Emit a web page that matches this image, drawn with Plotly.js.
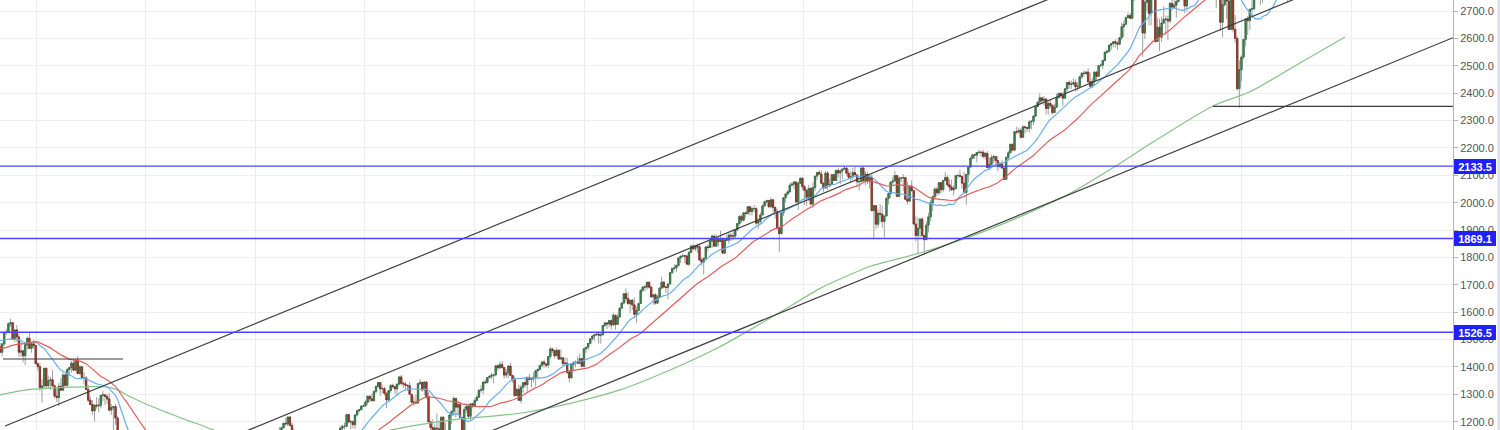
<!DOCTYPE html>
<html><head><meta charset="utf-8">
<script src="https://cdn.plot.ly/plotly-3.0.1.min.js"></script>
<style>html,body{margin:0;padding:0;background:#fff;overflow:hidden}#chart{width:1500px;height:430px}</style>
</head><body><div id="chart"></div>
<script>
// Weekly S&P 500 candles, one per week starting Monday 2007-01-01
const firstWeek = '2007-01-01';
const weekOpen = [
1418.3,1409.7,1430.7,1430.5,1422.2,1448.4,1438.1,1455.5,1451.2,1387.2,1402.8,1386.9,1436.1,1420.9,1443.8,1452.9,1484.4,1494.1,1505.6,1505.9,1522.8,1515.7,1536.3,1507.7,1532.9,1502.6,1503.4,1530.4,1552.5,1534.1,1458.9,1433.1,1453.6,1445.9,1479.4,1474.0,1453.6,1484.3,1525.8,1526.8,1557.6,1561.8,1500.6,1535.3,1509.7,1453.7,1458.7,1440.7,1481.1,1504.7,1467.9,1484.5,
1478.5,1411.6,1401.0,1325.2,1330.6,1395.4,1331.3,1349.99,1353.1,1330.6,1293.4,1288.1,1329.5,1315.2,1370.4,1332.8,1390.3,1397.8,1413.9,1388.3,1425.4,1375.9,1400.4,1360.7,1360.0,1317.9,1278.4,1262.9,1239.5,1260.7,1257.8,1260.3,1296.3,1298.2,1292.2,1282.8,1242.3,1251.7,1255.1,1213.3,1099.2,899.2,940.6,876.8,968.8,930.99,873.3,800.0,896.2,876.1,879.7,887.9,
872.8,931.8,890.4,850.1,831.95,825.9,868.6,826.8,770.05,735.1,683.4,756.6,768.5,815.9,842.5,856.6,869.6,866.2,877.5,929.2,882.9,887.0,919.1,940.1,946.2,921.2,918.9,896.4,879.1,940.4,979.3,987.5,1010.5,1004.1,1026.1,1028.9,1016.4,1042.7,1068.3,1044.4,1025.2,1071.5,1087.7,1079.6,1036.2,1069.3,1093.5,1091.4,1091.5,1106.0,1106.4,1102.5,1126.5,
1115.1,1144.98,1136.0,1091.8,1073.9,1066.2,1075.5,1109.2,1104.5,1138.7,1149.99,1159.9,1166.6,1178.1,1194.4,1192.1,1217.3,1186.7,1110.9,1135.7,1087.7,1089.4,1064.9,1091.6,1117.5,1076.8,1022.6,1077.96,1064.9,1102.7,1101.6,1121.6,1079.3,1071.7,1064.6,1104.5,1109.6,1125.6,1148.7,1146.2,1165.2,1176.2,1183.1,1183.3,1225.9,1199.2,1199.7,1189.4,1224.7,1240.4,1243.9,1256.8,
1257.6,1271.5,1293.2,1283.4,1276.3,1310.9,1329.2,1343.0,1320.0,1321.2,1304.3,1279.2,1313.8,1332.4,1328.2,1319.7,1337.4,1363.6,1340.2,1337.8,1333.3,1331.1,1300.2,1270.98,1271.5,1268.5,1339.7,1343.8,1316.1,1345.0,1292.3,1199.4,1178.8,1123.5,1176.8,1173.97,1154.2,1216.0,1136.4,1131.4,1155.5,1224.6,1238.3,1285.1,1253.2,1263.9,1215.7,1158.7,1244.3,1255.2,1219.7,1265.3,
1257.6,1277.8,1289.1,1315.4,1316.3,1344.9,1342.6,1361.2,1365.7,1370.0,1370.9,1404.2,1397.1,1408.5,1398.1,1370.3,1378.5,1403.4,1369.1,1353.4,1295.2,1317.8,1278.0,1325.7,1342.8,1335.0,1362.2,1354.7,1356.8,1362.7,1385.97,1390.99,1405.9,1418.2,1411.1,1406.6,1437.9,1465.8,1460.2,1440.7,1460.9,1428.6,1433.2,1411.9,1414.2,1379.9,1359.9,1409.2,1416.2,1418.1,1413.6,1430.2,
1402.4,1466.5,1472.1,1485.98,1502.96,1513.2,1517.9,1519.8,1515.6,1518.2,1551.2,1560.7,1556.9,1569.2,1553.3,1588.9,1555.3,1582.2,1614.4,1633.7,1667.5,1649.6,1630.7,1643.4,1626.7,1592.4,1606.3,1631.9,1680.2,1692.1,1691.7,1709.7,1691.4,1655.8,1663.5,1632.97,1655.2,1687.99,1709.9,1691.8,1690.5,1703.2,1744.5,1759.8,1761.6,1770.6,1798.2,1804.8,1805.8,1805.1,1775.3,1818.3,
1841.4,1831.4,1842.4,1838.7,1790.3,1782.6,1797.0,1838.6,1836.3,1859.5,1878.0,1841.1,1866.5,1857.6,1865.1,1815.7,1864.9,1863.4,1881.1,1878.5,1877.9,1900.5,1923.6,1949.4,1936.2,1962.9,1960.96,1985.4,1967.6,1978.2,1978.3,1925.2,1931.6,1955.1,1988.4,2003.4,2007.7,1985.5,2010.4,1982.9,1967.9,1906.1,1886.8,1964.6,2018.1,2031.9,2039.8,2063.5,2067.6,2075.4,2002.3,2070.7,
2088.8,2058.2,2044.8,2019.4,2051.8,1994.99,2055.5,2096.99,2110.3,2104.5,2071.3,2053.4,2108.1,2061.0,2066.96,2102.1,2081.2,2117.7,2108.3,2116.1,2122.7,2126.1,2107.4,2092.8,2094.1,2109.99,2101.5,2076.8,2076.6,2126.6,2079.7,2103.8,2077.6,2091.5,1970.9,1988.9,1921.2,1961.1,1958.0,1931.3,1951.4,2014.9,2033.1,2075.2,2079.4,2099.2,2023.0,2089.2,2090.1,2091.7,2012.4,2005.6,2060.99,
2043.9,1922.0,1880.3,1906.9,1940.2,1880.1,1864.8,1917.8,1948.1,1999.99,2022.2,2049.6,2035.9,2072.8,2047.6,2080.7,2091.6,2065.3,2057.1,2046.6,2052.3,2099.1,2099.1,2096.1,2071.2,2037.4,2102.95,2129.9,2161.7,2175.0,2173.6,2182.9,2184.1,2183.9,2169.0,2179.98,2128.0,2139.2,2164.7,2168.3,2153.7,2132.98,2141.2,2126.4,2085.2,2164.5,2181.9,2213.4,2191.95,2259.5,2258.1,2263.8,
2238.8,2276.98,2274.6,2271.3,2294.7,2297.4,2316.1,2351.2,2367.3,2383.1,2372.6,2378.3,2343.98,2362.7,2355.5,2328.95,2348.7,2384.2,2399.3,2390.9,2381.7,2415.8,2439.1,2431.8,2433.2,2438.3,2423.4,2425.2,2459.3,2472.5,2472.1,2476.8,2441.3,2425.6,2443.1,2476.6,2461.4,2500.2,2502.2,2519.4,2549.3,2553.2,2575.2,2581.1,2587.8,2582.3,2578.9,2602.4,2642.2,2651.5,2675.8,2683.3,
2673.6,2743.2,2786.2,2810.3,2872.9,2762.1,2619.6,2732.2,2747.3,2691.3,2786.6,2752.0,2588.3,2640.9,2604.5,2656.3,2670.1,2669.9,2663.4,2727.7,2712.97,2721.3,2734.6,2779.0,2779.7,2754.9,2718.4,2759.8,2801.3,2801.8,2818.8,2840.4,2833.3,2850.1,2874.7,2901.5,2871.7,2904.98,2929.7,2913.98,2885.6,2767.1,2767.8,2658.7,2723.1,2781.0,2736.3,2632.6,2760.2,2633.1,2599.95,2416.6,
2485.7,2531.9,2596.3,2670.7,2664.8,2706.5,2707.9,2775.6,2792.7,2803.7,2743.1,2822.5,2800.7,2834.4,2892.7,2907.4,2905.0,2939.9,2945.6,2881.4,2859.5,2826.1,2752.1,2873.3,2886.98,2950.5,2941.8,2990.4,3013.8,2976.6,3025.9,2932.1,2918.7,2888.7,2847.1,2926.5,2978.7,3007.4,2992.1,2961.8,2952.0,2970.3,2986.2,3022.6,3066.9,3093.1,3120.5,3110.3,3140.98,3145.9
];
const weekHigh = [
1429.4,1431.6,1435.3,1440.7,1449.3,1461.6,1461.1,1461.6,1459.7,1410.2,1410.2,1437.6,1437.6,1444.9,1453.1,1484.7,1498.0,1510.3,1513.8,1522.8,1529.3,1540.6,1540.0,1538.7,1540.5,1514.96,1534.3,1555.1,1555.9,1534.1,1488.3,1503.9,1455.0,1479.4,1481.5,1488.4,1488.7,1529.4,1538.7,1561.9,1576.1,1562.9,1536.4,1552.8,1520.9,1492.1,1463.2,1488.9,1510.6,1523.6,1486.1,1498.9,
1478.5,1419.4,1414.8,1355.2,1396.0,1396.0,1368.9,1364.8,1388.6,1335.9,1321.7,1341.5,1359.7,1380.9,1378.1,1395.9,1399.9,1421.6,1422.7,1426.8,1440.2,1406.3,1404.1,1380.4,1366.6,1333.1,1292.2,1278.5,1262.3,1290.7,1284.9,1297.9,1313.2,1300.7,1301.5,1304.0,1265.4,1255.1,1265.0,1220.0,1106.3,1006.9,985.4,984.4,1007.5,941.4,873.3,896.2,896.2,919.0,918.9,887.9,
934.7,943.8,890.4,850.1,877.9,870.8,874.4,826.8,780.1,735.1,758.3,788.0,832.98,845.6,858.4,875.6,869.6,888.7,930.2,929.6,924.6,920.0,947.8,956.2,946.2,935.8,932.3,899.0,943.96,979.8,996.7,1018.0,1018.0,1027.6,1039.5,1039.5,1048.2,1074.8,1080.2,1062.9,1076.0,1096.6,1101.4,1083.7,1071.3,1105.4,1113.7,1112.4,1119.1,1110.7,1117.7,1129.6,1130.4,
1145.4,1150.4,1150.5,1103.7,1104.7,1080.0,1112.4,1112.4,1139.0,1150.2,1166.2,1180.7,1181.4,1194.7,1213.9,1217.3,1219.8,1197.0,1173.6,1138.0,1104.7,1105.7,1092.6,1119.1,1131.2,1078.7,1078.2,1099.1,1103.7,1120.95,1129.2,1127.3,1094.2,1081.2,1105.1,1110.9,1131.5,1148.9,1157.2,1167.7,1184.4,1189.4,1196.1,1227.1,1227.1,1207.4,1205.0,1225.6,1240.4,1246.7,1259.4,1262.6,
1278.2,1293.2,1296.7,1301.3,1311.0,1330.8,1344.1,1343.0,1332.3,1327.7,1304.3,1315.0,1337.8,1339.5,1328.2,1337.5,1364.6,1370.6,1346.9,1346.8,1334.0,1345.2,1300.2,1292.5,1298.6,1341.0,1356.5,1343.8,1347.0,1345.2,1307.4,1199.4,1208.5,1190.7,1230.7,1204.4,1220.4,1220.4,1195.9,1160.0,1224.6,1238.5,1292.7,1285.1,1277.6,1264.3,1215.7,1255.1,1267.1,1266.7,1265.4,1269.4,
1284.6,1296.8,1315.5,1333.5,1345.3,1354.3,1363.0,1368.9,1378.0,1373.0,1405.9,1409.5,1419.2,1422.4,1398.1,1392.8,1406.6,1415.3,1369.1,1365.9,1324.1,1334.9,1334.8,1343.0,1363.5,1362.2,1374.8,1356.8,1380.4,1389.2,1394.2,1407.1,1418.7,1426.7,1413.5,1438.9,1474.5,1467.1,1460.2,1470.96,1464.0,1464.0,1433.8,1434.3,1433.4,1388.8,1409.2,1420.8,1423.7,1438.6,1448.0,1430.2,
1466.5,1472.3,1485.98,1503.3,1514.4,1518.3,1524.7,1530.9,1525.8,1552.5,1563.6,1563.6,1570.3,1573.7,1597.4,1588.9,1592.6,1618.5,1635.0,1667.5,1687.2,1674.2,1646.5,1648.7,1654.2,1620.1,1632.1,1680.2,1693.1,1698.8,1709.7,1709.7,1696.8,1664.8,1669.5,1664.9,1689.97,1729.9,1711.0,1696.6,1703.4,1745.3,1759.8,1775.2,1774.5,1798.2,1804.8,1813.6,1808.4,1811.0,1823.8,1844.9,
1849.4,1843.2,1850.8,1850.8,1798.8,1798.0,1838.6,1846.9,1867.9,1883.6,1883.6,1883.97,1875.9,1897.3,1872.5,1869.6,1884.9,1891.3,1889.1,1902.2,1901.3,1924.0,1955.6,1955.6,1963.9,1968.2,1985.6,1985.4,1983.9,1991.4,1984.9,1942.9,1964.0,1994.0,2005.0,2011.2,2007.7,2019.3,2011.8,1985.2,1977.4,1912.1,1965.3,2018.2,2034.3,2046.2,2071.5,2075.8,2079.5,2077.9,2077.9,2093.6,
2093.6,2064.4,2049.3,2064.6,2057.6,2072.4,2097.0,2110.6,2119.6,2117.5,2072.8,2114.9,2114.9,2088.5,2102.6,2107.6,2120.5,2125.9,2120.9,2123.9,2134.7,2129.2,2121.9,2115.4,2126.6,2130.1,2101.5,2085.7,2129.9,2132.8,2114.2,2112.7,2102.7,2102.7,1993.5,1988.9,1975.0,1995.0,1989.4,1951.4,2020.9,2033.5,2075.2,2094.3,2116.5,2099.2,2097.1,2093.8,2104.3,2093.8,2076.7,2062.5,2081.6,
2043.9,1950.3,1947.2,1940.2,1947.2,1881.6,1930.7,1962.96,2009.1,2024.6,2056.6,2056.6,2075.1,2075.1,2083.1,2111.05,2099.9,2084.9,2083.6,2064.2,2099.1,2106.3,2120.6,2096.1,2113.3,2102.95,2131.7,2169.1,2175.6,2177.1,2182.9,2193.8,2187.9,2193.4,2184.9,2187.9,2163.3,2175.3,2175.3,2169.6,2169.6,2148.4,2154.8,2133.0,2170.1,2189.9,2213.4,2214.1,2259.5,2277.5,2273.8,2273.8,
2282.1,2279.3,2276.1,2300.99,2299.4,2319.2,2351.3,2368.3,2400.98,2383.9,2390.0,2382.4,2370.3,2378.4,2359.0,2361.4,2398.2,2399.3,2403.9,2405.8,2418.7,2440.2,2446.2,2446.2,2453.8,2450.4,2439.5,2463.5,2477.6,2484.0,2480.4,2490.9,2474.9,2454.8,2480.4,2480.0,2500.2,2508.9,2519.4,2552.5,2557.7,2575.4,2582.98,2588.4,2597.0,2590.1,2605.5,2657.7,2665.2,2679.6,2694.97,2692.1,
2743.5,2787.9,2810.3,2872.9,2872.9,2763.4,2754.4,2747.8,2789.2,2786.6,2801.9,2752.0,2674.8,2672.1,2680.3,2717.5,2683.6,2682.9,2732.9,2742.1,2742.2,2742.4,2791.5,2789.1,2779.7,2758.8,2760.0,2801.3,2816.8,2848.0,2840.4,2863.4,2854.4,2876.2,2916.5,2906.3,2906.3,2940.9,2939.9,2939.9,2894.8,2816.9,2778.9,2756.5,2815.2,2781.0,2746.8,2760.9,2800.2,2685.4,2607.1,2520.3,
2538.1,2597.8,2675.5,2681.8,2708.0,2738.98,2775.7,2794.2,2813.5,2816.9,2830.7,2860.3,2836.0,2893.2,2910.5,2916.1,2940.0,2954.1,2945.6,2892.2,2876.2,2841.4,2884.9,2905.1,2964.2,2964.2,2995.8,3017.8,3017.8,3027.98,3029.0,2945.5,2943.3,2939.1,2940.4,2985.9,3021.0,3022.0,3016.4,2993.3,2993.3,3000.4,3027.4,3066.9,3097.8,3120.5,3127.6,3154.3,3154.0,3176.3
];
const weekLow = [
1403.97,1405.0,1424.2,1416.6,1418.9,1437.7,1433.2,1444.0,1374.1,1373.8,1363.98,1386.9,1412.0,1416.4,1433.9,1452.2,1474.4,1476.7,1491.4,1498.3,1500.3,1510.1,1487.4,1492.7,1500.6,1484.2,1503.4,1506.1,1529.2,1458.3,1433.0,1429.0,1370.6,1430.5,1432.0,1449.6,1439.3,1476.6,1516.5,1526.8,1546.7,1500.6,1490.0,1492.5,1436.7,1437.0,1416.4,1406.1,1463.6,1467.3,1451.9,1468.1,
1411.2,1386.2,1312.8,1270.05,1322.4,1316.8,1320.3,1316.8,1330.6,1285.3,1272.6,1256.98,1312.8,1312.5,1328.6,1324.4,1368.2,1379.1,1384.6,1386.6,1373.1,1371.4,1359.9,1335.6,1314.5,1272.0,1261.5,1225.4,1200.4,1248.0,1234.4,1248.8,1274.0,1261.5,1265.0,1236.8,1225.0,1133.5,1188.6,1099.2,839.8,882.0,845.3,845.3,899.7,818.7,741.0,799.0,815.7,851.4,857.9,857.1,
857.3,870.3,804.3,804.3,821.7,812.9,818.4,754.3,734.5,666.8,672.9,742.4,768.5,779.8,814.5,836.9,826.8,847.1,868.9,878.9,878.9,879.6,917.4,927.1,903.8,888.9,896.4,869.3,879.1,940.4,968.7,987.5,990.9,978.5,1016.2,991.0,1016.2,1042.7,1038.3,1020.2,1025.2,1065.4,1065.0,1029.4,1029.4,1069.3,1085.4,1083.7,1085.4,1085.9,1095.4,1102.5,1115.1,
1115.1,1131.4,1090.2,1071.6,1044.5,1056.5,1075.5,1086.0,1104.5,1136.2,1139.3,1150.4,1163.1,1175.1,1186.8,1183.7,1181.6,1065.8,1110.9,1055.9,1040.8,1060.9,1042.2,1076.4,1071.7,1010.9,1018.4,1062.9,1056.9,1099.9,1101.6,1076.9,1069.1,1039.7,1047.0,1091.2,1109.6,1122.8,1131.9,1131.9,1155.7,1159.7,1171.7,1183.3,1194.1,1173.0,1176.0,1173.6,1219.4,1232.8,1243.9,1254.2,
1257.6,1262.7,1271.3,1275.7,1276.3,1302.6,1323.8,1294.3,1302.6,1294.3,1249.1,1279.2,1304.1,1322.1,1302.1,1294.7,1331.5,1331.9,1321.4,1318.5,1311.8,1300.0,1268.0,1258.1,1262.9,1265.6,1333.2,1309.7,1295.9,1282.9,1199.0,1101.5,1119.3,1121.1,1172.9,1148.6,1136.2,1114.2,1131.1,1074.8,1155.5,1191.5,1220.9,1215.4,1226.6,1209.4,1158.7,1158.7,1231.5,1209.5,1202.4,1248.6,
1257.6,1274.6,1289.1,1306.1,1300.5,1337.5,1340.0,1357.7,1354.9,1340.0,1365.3,1386.9,1391.6,1392.9,1357.4,1359.4,1358.6,1367.9,1343.1,1291.98,1295.2,1277.8,1266.7,1306.6,1324.4,1309.3,1352.3,1325.4,1343.0,1329.2,1354.7,1390.99,1397.3,1398.0,1397.0,1396.6,1429.1,1451.6,1430.5,1440.7,1425.5,1428.6,1403.3,1407.6,1373.0,1343.4,1359.9,1385.4,1398.1,1411.9,1413.6,1398.1,
1398.1,1451.6,1461.0,1485.98,1496.3,1495.0,1513.6,1485.0,1485.0,1512.3,1547.4,1538.6,1545.1,1536.0,1548.6,1536.0,1553.3,1581.3,1614.4,1628.5,1635.5,1630.7,1598.2,1608.1,1577.7,1560.3,1604.6,1631.9,1673.1,1676.0,1681.9,1686.0,1654.2,1627.5,1627.5,1630.0,1655.2,1684.1,1687.1,1670.4,1646.5,1700.7,1740.5,1752.7,1746.2,1767.0,1779.1,1800.4,1779.5,1772.3,1767.99,1818.3,
1827.7,1823.7,1815.8,1790.3,1770.5,1737.9,1795.5,1823.0,1834.4,1834.2,1839.6,1839.6,1839.6,1857.6,1814.4,1815.7,1859.7,1850.6,1859.8,1862.4,1868.1,1900.5,1915.98,1925.9,1930.0,1944.7,1955.9,1952.9,1952.9,1965.8,1916.4,1904.8,1925.0,1955.1,1985.2,1995.8,1980.3,1978.6,1965.99,1941.7,1906.1,1820.7,1886.8,1951.4,2001.0,2026.2,2034.5,2060.4,2049.6,2002.3,1972.6,2069.7,
2046.0,1992.4,1988.1,2004.5,1989.2,1980.9,2041.9,2085.4,2103.0,2067.3,2039.7,2053.4,2045.8,2056.0,2066.96,2079.1,2079.3,2091.1,2067.9,2085.7,2121.5,2099.2,2085.7,2072.1,2083.8,2101.3,2056.2,2044.0,2076.6,2077.9,2063.5,2067.9,2052.1,1970.9,1867.0,1903.1,1909.0,1930.0,1908.8,1871.9,1951.4,1993.3,2016.2,2062.5,2077.9,2022.9,2019.4,2074.2,2042.4,2012.4,1993.3,2005.6,2040.6,
1918.5,1857.8,1812.3,1872.7,1872.7,1810.1,1864.8,1891.0,1931.8,1969.2,2010.1,2022.5,2028.3,2033.8,2039.7,2079.6,2059.0,2039.5,2043.1,2025.9,2047.6,2087.4,2092.2,2050.4,2032.1,1991.7,2074.0,2129.9,2159.0,2159.8,2147.6,2177.7,2168.8,2160.4,2157.1,2127.8,2119.1,2139.2,2145.0,2142.6,2114.7,2125.3,2126.4,2083.8,2085.2,2151.8,2181.9,2187.4,2187.9,2249.5,2252.3,2233.6,
2238.8,2254.3,2258.8,2257.0,2267.2,2283.7,2313.7,2351.2,2358.1,2363.6,2354.5,2322.3,2322.3,2344.6,2322.3,2328.95,2348.7,2379.8,2381.7,2352.7,2381.7,2405.7,2415.7,2415.7,2428.8,2405.7,2407.7,2415.9,2452.1,2459.9,2466.5,2437.8,2417.4,2417.4,2428.2,2446.6,2461.4,2496.7,2488.0,2519.4,2543.0,2547.9,2557.4,2566.2,2566.3,2557.4,2578.9,2594.0,2605.5,2649.5,2673.6,2673.6,
2673.6,2736.1,2768.6,2808.1,2759.97,2532.7,2596.9,2699.6,2647.3,2647.3,2749.97,2585.9,2588.3,2553.8,2586.5,2651.9,2612.7,2594.6,2655.2,2701.9,2707.4,2675.8,2734.6,2757.6,2743.2,2691.9,2698.9,2758.5,2791.5,2795.1,2795.6,2828.9,2802.5,2848.0,2874.7,2864.1,2864.1,2879.7,2903.3,2874.0,2710.5,2755.9,2628.2,2603.5,2715.9,2670.8,2631.1,2632.6,2621.5,2583.2,2408.6,2346.6,
2443.96,2524.6,2570.4,2612.7,2631.3,2681.8,2704.1,2767.1,2775.1,2722.3,2728.8,2800.7,2785.0,2834.4,2873.3,2896.3,2898.4,2919.7,2825.4,2801.4,2805.5,2750.5,2728.8,2862.2,2883.6,2913.6,2941.8,2963.4,2975.7,2976.6,2914.1,2822.1,2840.5,2834.97,2839.6,2891.9,2964.6,2989.8,2946.0,2855.96,2873.9,2952.2,2979.4,3007.4,3066.9,3075.4,3091.4,3110.3,3070.3,3123.2
];
const weekClose = [
1409.7,1430.7,1430.5,1422.2,1448.4,1438.1,1455.5,1451.2,1387.2,1402.8,1386.9,1436.1,1420.9,1443.8,1452.9,1484.4,1494.1,1505.6,1505.9,1522.8,1515.7,1536.3,1507.7,1532.9,1502.6,1503.4,1530.4,1552.5,1534.1,1458.9,1433.1,1453.6,1445.9,1479.4,1474.0,1453.6,1484.3,1525.8,1526.8,1557.6,1561.8,1500.6,1535.3,1509.7,1453.7,1458.7,1440.7,1481.1,1504.7,1467.9,1484.5,1478.5,
1411.6,1401.0,1325.2,1330.6,1395.4,1331.3,1349.99,1353.1,1330.6,1293.4,1288.1,1329.5,1315.2,1370.4,1332.8,1390.3,1397.8,1413.9,1388.3,1425.4,1375.9,1400.4,1360.7,1360.0,1317.9,1278.4,1262.9,1239.5,1260.7,1257.8,1260.3,1296.3,1298.2,1292.2,1282.8,1242.3,1251.7,1255.1,1213.3,1099.2,899.2,940.6,876.8,968.8,930.99,873.3,800.0,896.2,876.1,879.7,887.9,872.8,
931.8,890.4,850.1,831.95,825.9,868.6,826.8,770.05,735.1,683.4,756.6,768.5,815.9,842.5,856.6,869.6,866.2,877.5,929.2,882.9,887.0,919.1,940.1,946.2,921.2,918.9,896.4,879.1,940.4,979.3,987.5,1010.5,1004.1,1026.1,1028.9,1016.4,1042.7,1068.3,1044.4,1025.2,1071.5,1087.7,1079.6,1036.2,1069.3,1093.5,1091.4,1091.5,1106.0,1106.4,1102.5,1126.5,1115.1,
1144.98,1136.0,1091.8,1073.9,1066.2,1075.5,1109.2,1104.5,1138.7,1149.99,1159.9,1166.6,1178.1,1194.4,1192.1,1217.3,1186.7,1110.9,1135.7,1087.7,1089.4,1064.9,1091.6,1117.5,1076.8,1022.6,1077.96,1064.9,1102.7,1101.6,1121.6,1079.3,1071.7,1064.6,1104.5,1109.6,1125.6,1148.7,1146.2,1165.2,1176.2,1183.1,1183.3,1225.9,1199.2,1199.7,1189.4,1224.7,1240.4,1243.9,1256.8,1257.6,
1271.5,1293.2,1283.4,1276.3,1310.9,1329.2,1343.0,1320.0,1321.2,1304.3,1279.2,1313.8,1332.4,1328.2,1319.7,1337.4,1363.6,1340.2,1337.8,1333.3,1331.1,1300.2,1270.98,1271.5,1268.5,1339.7,1343.8,1316.1,1345.0,1292.3,1199.4,1178.8,1123.5,1176.8,1173.97,1154.2,1216.0,1136.4,1131.4,1155.5,1224.6,1238.3,1285.1,1253.2,1263.9,1215.7,1158.7,1244.3,1255.2,1219.7,1265.3,1257.6,
1277.8,1289.1,1315.4,1316.3,1344.9,1342.6,1361.2,1365.7,1370.0,1370.9,1404.2,1397.1,1408.5,1398.1,1370.3,1378.5,1403.4,1369.1,1353.4,1295.2,1317.8,1278.0,1325.7,1342.8,1335.0,1362.2,1354.7,1356.8,1362.7,1385.97,1390.99,1405.9,1418.2,1411.1,1406.6,1437.9,1465.8,1460.2,1440.7,1460.9,1428.6,1433.2,1411.9,1414.2,1379.9,1359.9,1409.2,1416.2,1418.1,1413.6,1430.2,1402.4,
1466.5,1472.1,1485.98,1502.96,1513.2,1517.9,1519.8,1515.6,1518.2,1551.2,1560.7,1556.9,1569.2,1553.3,1588.9,1555.3,1582.2,1614.4,1633.7,1667.5,1649.6,1630.7,1643.4,1626.7,1592.4,1606.3,1631.9,1680.2,1692.1,1691.7,1709.7,1691.4,1655.8,1663.5,1632.97,1655.2,1687.99,1709.9,1691.8,1690.5,1703.2,1744.5,1759.8,1761.6,1770.6,1798.2,1804.8,1805.8,1805.1,1775.3,1818.3,1841.4,
1831.4,1842.4,1838.7,1790.3,1782.6,1797.0,1838.6,1836.3,1859.5,1878.0,1841.1,1866.5,1857.6,1865.1,1815.7,1864.9,1863.4,1881.1,1878.5,1877.9,1900.5,1923.6,1949.4,1936.2,1962.9,1960.96,1985.4,1967.6,1978.2,1978.3,1925.2,1931.6,1955.1,1988.4,2003.4,2007.7,1985.5,2010.4,1982.9,1967.9,1906.1,1886.8,1964.6,2018.1,2031.9,2039.8,2063.5,2067.6,2075.4,2002.3,2070.7,2088.8,
2058.2,2044.8,2019.4,2051.8,1994.99,2055.5,2096.99,2110.3,2104.5,2071.3,2053.4,2108.1,2061.0,2066.96,2102.1,2081.2,2117.7,2108.3,2116.1,2122.7,2126.1,2107.4,2092.8,2094.1,2109.99,2101.5,2076.8,2076.6,2126.6,2079.7,2103.8,2077.6,2091.5,1970.9,1988.9,1921.2,1961.1,1958.0,1931.3,1951.4,2014.9,2033.1,2075.2,2079.4,2099.2,2023.0,2089.2,2090.1,2091.7,2012.4,2005.6,2060.99,2043.9,
1922.0,1880.3,1906.9,1940.2,1880.1,1864.8,1917.8,1948.1,1999.99,2022.2,2049.6,2035.9,2072.8,2047.6,2080.7,2091.6,2065.3,2057.1,2046.6,2052.3,2099.1,2099.1,2096.1,2071.2,2037.4,2102.95,2129.9,2161.7,2175.0,2173.6,2182.9,2184.1,2183.9,2169.0,2179.98,2128.0,2139.2,2164.7,2168.3,2153.7,2132.98,2141.2,2126.4,2085.2,2164.5,2181.9,2213.4,2191.95,2259.5,2258.1,2263.8,2238.8,
2276.98,2274.6,2271.3,2294.7,2297.4,2316.1,2351.2,2367.3,2383.1,2372.6,2378.3,2343.98,2362.7,2355.5,2328.95,2348.7,2384.2,2399.3,2390.9,2381.7,2415.8,2439.1,2431.8,2433.2,2438.3,2423.4,2425.2,2459.3,2472.5,2472.1,2476.8,2441.3,2425.6,2443.1,2476.6,2461.4,2500.2,2502.2,2519.4,2549.3,2553.2,2575.2,2581.1,2587.8,2582.3,2578.9,2602.4,2642.2,2651.5,2675.8,2683.3,2673.6,
2743.2,2786.2,2810.3,2872.9,2762.1,2619.6,2732.2,2747.3,2691.3,2786.6,2752.0,2588.3,2640.9,2604.5,2656.3,2670.1,2669.9,2663.4,2727.7,2712.97,2721.3,2734.6,2779.0,2779.7,2754.9,2718.4,2759.8,2801.3,2801.8,2818.8,2840.4,2833.3,2850.1,2874.7,2901.5,2871.7,2904.98,2929.7,2913.98,2885.6,2767.1,2767.8,2658.7,2723.1,2781.0,2736.3,2632.6,2760.2,2633.1,2599.95,2416.6,2485.7,
2531.9,2596.3,2670.7,2664.8,2706.5,2707.9,2775.6,2792.7,2803.7,2743.1,2822.5,2800.7,2834.4,2892.7,2907.4,2905.0,2939.9,2945.6,2881.4,2859.5,2826.1,2752.1,2873.3,2886.98,2950.5,2941.8,2990.4,3013.8,2976.6,3025.9,2932.1,2918.7,2888.7,2847.1,2926.5,2978.7,3007.4,2992.1,2961.8,2952.0,2970.3,2986.2,3022.6,3066.9,3093.1,3120.5,3110.3,3140.98,3145.9,3168.8
];

// Slow (green) moving average
const slowMaDates = ['2007-09-03','2007-12-02','2008-04-23','2008-08-01','2008-09-20','2008-11-09','2009-01-15','2009-03-23','2009-05-28','2009-07-01','2009-12-14','2010-05-30','2010-11-12','2011-03-26','2011-10-02','2012-06-01','2012-11-15','2013-04-30','2013-10-14','2014-03-29','2014-06-27','2014-11-08','2015-02-26','2015-08-11','2016-01-25','2016-07-10','2016-12-23','2017-06-08','2017-11-22','2018-03-02','2018-09-28','2019-01-29','2019-07-14','2019-12-11'];
const slowMaValues = [1298,1316,1326,1328,1320,1292,1258,1229,1201,1189,1120,1105,1130,1169,1204,1231,1267,1316,1389,1474,1529,1615,1687,1767,1816,1876,1949,2034,2144,2215,2354,2405,2510,2605];

// Moving-average periods (weeks)
const fastPeriod = 20;
const midPeriod = 40;

// Horizontal support / resistance levels
const levelPrices = [2133.5, 1869.1, 1526.5];

// Channel trend lines
const trendStartDates = ['2007-09-20','2009-11-10','2012-02-05'];
const trendStartPrices = [1184.3, 1156.2, 1156.5];
const trendEndDates = ['2017-05-05','2019-08-16','2020-12-05'];
const trendEndPrices = [2760.1, 2766.5, 2602.5];

// Short horizontal black lines
const hLineStartDates = ['2007-09-13','2018-09-27'];
const hLineEndDates = ['2008-10-17','2020-12-05'];
const hLinePrices = [1429, 2352];

const xRange = ['2007-09-03','2020-12-05'];
const yRange = [1169.7, 2740.2];

// ---------- build ----------
const t0 = new Date(firstWeek + 'T00:00:00Z').getTime();
const dates = weekClose.map((_, i) => new Date(t0 + i * 7 * 86400000).toISOString().slice(0, 10));

function sma(src, n) {
  return src.map((_, i) => {
    const a = Math.max(0, i - n + 1);
    let s = 0;
    for (let k = a; k <= i; k++) s += src[k];
    return s / (i - a + 1);
  });
}
const fastMa = sma(weekClose, fastPeriod);
const midMa = sma(weekClose, midPeriod);
const bodyHigh = weekOpen.map((o, i) => Math.max(o, weekClose[i]));
const bodyLow = weekOpen.map((o, i) => Math.min(o, weekClose[i]));

const traces = [];
traces.push({type:'scatter', mode:'lines', x:slowMaDates, y:slowMaValues,
  line:{color:'#86c386', width:1.2, shape:'spline', smoothing:0.6}, hoverinfo:'skip'});
// wicks
traces.push({type:'candlestick', x:dates, open:weekOpen, high:weekHigh, low:weekLow, close:weekClose,
  increasing:{line:{color:'#a0a0a0', width:1}, fillcolor:'rgba(0,0,0,0)'},
  decreasing:{line:{color:'#a0a0a0', width:1}, fillcolor:'rgba(0,0,0,0)'},
  whiskerwidth:0, hoverinfo:'skip'});
// bodies
traces.push({type:'candlestick', x:dates, open:weekOpen, high:bodyHigh, low:bodyLow, close:weekClose,
  increasing:{line:{color:'#2f6a40', width:0.8}, fillcolor:'#468f58'},
  decreasing:{line:{color:'#7d2a1e', width:0.8}, fillcolor:'#b4412f'},
  whiskerwidth:0, hoverinfo:'skip'});
traces.push({type:'scatter', mode:'lines', x:dates, y:fastMa, line:{color:'#69aef0', width:1.2}, hoverinfo:'skip'});
traces.push({type:'scatter', mode:'lines', x:dates, y:midMa, line:{color:'#e45d5d', width:1.2}, hoverinfo:'skip'});
trendStartDates.forEach((d, i) => {
  traces.push({type:'scatter', mode:'lines', x:[d, trendEndDates[i]], y:[trendStartPrices[i], trendEndPrices[i]],
    line:{color:'#3c3c3c', width:1.2}, hoverinfo:'skip'});
});
hLinePrices.forEach((p, i) => {
  traces.push({type:'scatter', mode:'lines', x:[hLineStartDates[i], hLineEndDates[i]], y:[p, p],
    line:{color:'#3c3c3c', width:1.2}, hoverinfo:'skip'});
});

const shapes = levelPrices.map(p => ({type:'line', xref:'paper', x0:0, x1:1, yref:'y', y0:p, y1:p,
  line:{color:'#4646ff', width:1.4}, layer:'above'}));
shapes.push({type:'rect', xref:'paper', x0:1.0305, x1:1.034, yref:'paper', y0:0, y1:1,
  fillcolor:'#dcdff0', line:{width:0}, layer:'above'});

const annotations = levelPrices.map(p => ({xref:'paper', x:1, xanchor:'left', xshift:1, yref:'y', y:p,
  text:'<b>' + p.toFixed(1) + '</b>', showarrow:false, bgcolor:'#2020ff', bordercolor:'#2020ff',
  borderwidth:0, borderpad:2, width:38, height:11,
  font:{family:'Liberation Sans, Arial, sans-serif', size:11, color:'#ffffff'}}));

const layout = {
  width:1500, height:430,
  margin:{l:0, r:47, t:0, b:0, pad:0},
  paper_bgcolor:'#ffffff', plot_bgcolor:'#ffffff',
  showlegend:false, hovermode:false, dragmode:false,
  boxgap:0.12,
  xaxis:{type:'date', range:xRange, showgrid:true, gridcolor:'#ececec', gridwidth:1,
    tick0:'2008-01-01', dtick:'M12', showticklabels:false, ticks:'', zeroline:false, showline:false,
    rangeslider:{visible:false}, fixedrange:true},
  yaxis:{side:'right', range:yRange, dtick:100, tick0:0, tickformat:'.1f', showgrid:true, gridcolor:'#efefef',
    zeroline:false, showline:true, linecolor:'#b4b4b4', linewidth:1, ticks:'outside', ticklen:4, tickcolor:'#b4b4b4',
    tickfont:{family:'Liberation Sans, Arial, sans-serif', size:11, color:'#555555'}, fixedrange:true},
  shapes:shapes, annotations:annotations
};

Plotly.newPlot('chart', traces, layout, {staticPlot:true, displayModeBar:false});
</script>
</body></html>
